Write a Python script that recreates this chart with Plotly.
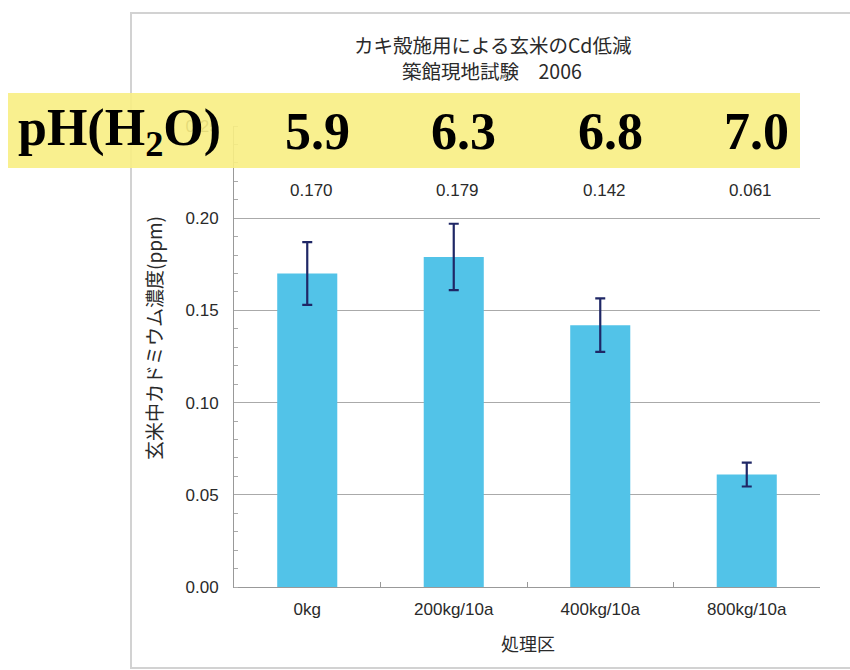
import plotly.graph_objects as go

# Treatment plots (oyster-shell application rate) and brown-rice Cd results
treatments = ["0kg", "200kg/10a", "400kg/10a", "800kg/10a"]
cd_ppm = [0.170, 0.179, 0.142, 0.061]
cd_err = [0.017, 0.018, 0.0145, 0.0065]
value_labels = ["0.170", "0.179", "0.142", "0.061"]
soil_ph = ["5.9", "6.3", "6.8", "7.0"]
y_ticks = [0.00, 0.05, 0.10, 0.15, 0.20, 0.25]
title_lines = ["カキ殻施用による玄米のCd低減", "築館現地試験　2006"]

W_FIG, H_FIG = 850, 670
L, R, T, B = 234, 820, 126, 587
PW, PH = R - L, B - T


def px(x):
    return (x - L) / PW


def py(y):
    return (B - y) / PH


JP = "Noto Sans CJK JP"
NUM = "Liberation Sans, Arial, sans-serif"
TXT = "#2A2A2A"

fig = go.Figure()
fig.add_trace(go.Bar(
    x=treatments,
    y=cd_ppm,
    width=0.41,
    marker=dict(color="#52C3E8", line=dict(width=0)),
    error_y=dict(type="data", array=cd_err, visible=True,
                 color="#1F2766", thickness=2.2, width=5),
    showlegend=False,
    hoverinfo="skip",
))

annotations = []
# numeric value above each bar
for t, lab in zip(treatments, value_labels):
    annotations.append(dict(
        x=t, y=0.215, xref="x", yref="y", text=lab, showarrow=False,
        font=dict(family=NUM, size=17, color=TXT), xshift=4,
    ))

# soil pH header row
annotations.append(dict(
    x=px(119), y=py(131), xref="paper", yref="paper",
    text="pH(H<sub>2</sub>O)", showarrow=False,
    font=dict(family="Liberation Serif", size=52, color="#000000", weight="bold"),
    xanchor="center", yanchor="middle",
))
for t, ph in zip(treatments, soil_ph):
    annotations.append(dict(
        x=t, y=py(131), xref="x", yref="paper", text=ph, showarrow=False,
        font=dict(family="Liberation Serif", size=52, color="#000000", weight="bold"),
        xanchor="center", yanchor="middle", xshift=10,
    ))

# chart title, two centred lines
for line, ypix in zip(title_lines, [44, 71]):
    annotations.append(dict(
        x=px(492), y=py(ypix), xref="paper", yref="paper",
        text=line, showarrow=False,
        font=dict(family=JP, size=19.5, color=TXT),
        xanchor="center", yanchor="middle",
    ))
# axis titles
annotations.append(dict(
    x=px(153), y=py(338), xref="paper", yref="paper",
    text="玄米中カドミウム濃度(ppm)", showarrow=False, textangle=-90,
    font=dict(family=JP, size=19, color=TXT),
    xanchor="center", yanchor="middle",
))
annotations.append(dict(
    x=px(528), y=py(643), xref="paper", yref="paper",
    text="処理区", showarrow=False,
    font=dict(family=JP, size=18, color=TXT),
    xanchor="center", yanchor="middle",
))

shapes = [
    # outer chart frame
    dict(type="rect", xref="paper", yref="paper",
         x0=px(131), x1=px(870), y0=py(668), y1=py(13),
         line=dict(color="#D2D2D2", width=2), fillcolor="rgba(0,0,0,0)",
         layer="below"),
    # highlighted pH band
    dict(type="rect", xref="paper", yref="paper",
         x0=px(8), x1=px(800), y0=py(168), y1=py(93),
         line=dict(width=0), fillcolor="rgba(248,238,131,0.9)",
         layer="above"),
]

fig.update_layout(
    width=W_FIG, height=H_FIG,
    margin=dict(l=L, r=W_FIG - R, t=T, b=H_FIG - B, pad=0),
    paper_bgcolor="white", plot_bgcolor="white",
    annotations=annotations,
    shapes=shapes,
    xaxis=dict(
        type="category", tickson="boundaries", ticks="inside", ticklen=5,
        tickcolor="#999999", showline=True, linecolor="#999999", linewidth=1,
        showgrid=False,
        tickfont=dict(family=NUM, size=17, color=TXT),
        ticklabelstandoff=7,
    ),
    yaxis=dict(
        range=[0, 0.25], tickvals=y_ticks, tickformat=".2f",
        showgrid=True, gridcolor="#AAAAAA", gridwidth=1,
        showline=True, linecolor="#999999", linewidth=1,
        ticks="", zeroline=False,
        tickfont=dict(family=NUM, size=17, color=TXT),
        ticklabelstandoff=11,
        minor=dict(dtick=0.01, ticks="inside", ticklen=4, tickcolor="#AAAAAA",
                   showgrid=False),
    ),
)

fig.write_html("out.html")
